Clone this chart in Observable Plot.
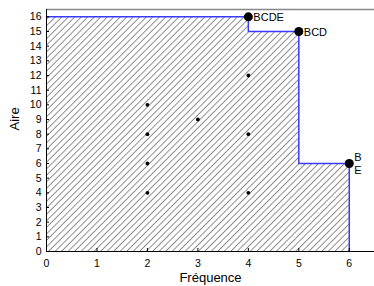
<!DOCTYPE html>
<html>
<head>
<meta charset="utf-8">
<script src="https://cdn.jsdelivr.net/npm/d3@7"></script>
<script src="https://cdn.jsdelivr.net/npm/@observablehq/plot@0.6"></script>
<style>
  html, body { margin: 0; padding: 0; background: #fff; }
  #chart svg { display: block; }
</style>
</head>
<body>
<div id="chart"></div>
<script>
// Staircase (Pareto frontier) of the hatched area
const stepX = [0, 4, 5, 6];
const stepY = [16, 15, 6, 0];

// Frontier points and labels
const frontX = [4, 5, 6];
const frontY = [16, 15, 6];
const frontLabels = ["BCDE", "BCD", "B\nE"];

// Other (dominated) points
const otherX = [2, 2, 2, 2, 3, 4, 4, 4];
const otherY = [4, 6, 8, 10, 9, 4, 8, 12];

// Ticks
const xTicks = [0, 1, 2, 3, 4, 5, 6];
const yTicks = d3.range(0, 17);

const stepData = stepX.map((x, i) => ({x, y: stepY[i]}));
const frontData = frontX.map((x, i) => ({x, y: frontY[i], label: frontLabels[i]}));
const otherData = otherX.map((x, i) => ({x, y: otherY[i]}));

const font = "'Liberation Sans', Arial, sans-serif";

const chart = Plot.plot({
  width: 374,
  height: 286,
  marginLeft: 46,
  marginRight: 0,
  marginTop: 9,
  marginBottom: 35,
  style: {fontFamily: font, fontSize: "10px", background: "#fff", color: "#000"},
  x: {domain: [0, 6.5], label: null},
  y: {domain: [0, 16.5], label: null},
  marks: [
    Plot.areaY(stepData, {x: "x", y: "y", curve: "step-after", fill: "url(#hatch)"}),
    Plot.lineY(stepData, {x: "x", y: "y", curve: "step-after", stroke: "#3a3aff", strokeWidth: 1.5}),
    Plot.ruleY([16.5], {stroke: "#888", strokeWidth: 1.5}),
    Plot.ruleX([0], {stroke: "#000", strokeWidth: 1}),
    Plot.ruleY([0], {stroke: "#000", strokeWidth: 1}),
    Plot.axisX({ticks: xTicks, tickSize: -3, tickPadding: 11, tickFormat: d3.format("d"), fontSize: 10.5, label: null}),
    Plot.axisY({ticks: yTicks, tickSize: -3, tickPadding: 8, tickFormat: d3.format("d"), fontSize: 10.5, label: null}),
    Plot.dot(otherData, {x: "x", y: "y", r: 1.9, fill: "#000", stroke: "none"}),
    Plot.dot(frontData, {x: "x", y: "y", r: 4.5, fill: "#000", stroke: "none"}),
    Plot.text(frontData, {x: "x", y: "y", text: "label", textAnchor: "start", dx: 5, fontSize: 11, lineHeight: 1.15, fill: "#000"}),
    Plot.text(["Fréquence"], {frameAnchor: "bottom", dy: 30, fontSize: 13, fill: "#000"}),
    Plot.text(["Aire"], {frameAnchor: "left", dx: -32, rotate: -90, fontSize: 13, fill: "#000"})
  ]
});

// Hatch pattern definition
const ns = "http://www.w3.org/2000/svg";
const defs = document.createElementNS(ns, "defs");
defs.innerHTML = `<pattern id="hatch" patternUnits="userSpaceOnUse" width="4.6" height="4.6" patternTransform="rotate(45)">
  <rect width="4.6" height="4.6" fill="#fff"/>
  <line x1="0" y1="0" x2="0" y2="4.6" stroke="#555" stroke-width="1.3"/>
</pattern>`;
chart.insertBefore(defs, chart.firstChild);

document.getElementById("chart").appendChild(chart);
</script>
</body>
</html>
